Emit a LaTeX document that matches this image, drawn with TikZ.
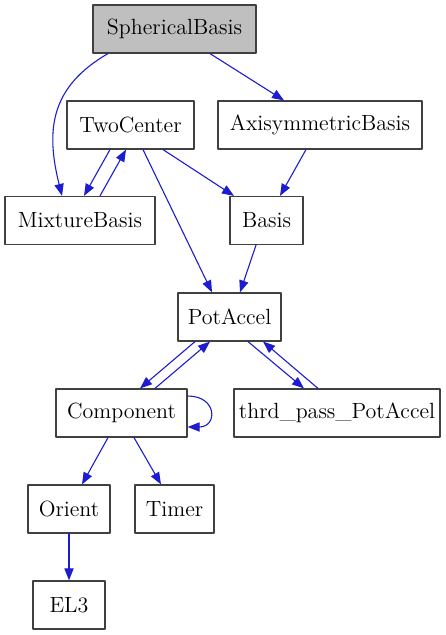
\documentclass[tikz,border=0pt]{standalone}
\usepackage{tikz}
\usetikzlibrary{arrows.meta}
\definecolor{edgeblue}{RGB}{28,28,208}

\begin{document}
\begin{tikzpicture}[
    x=0.5pt, y=-0.5pt,
    >={Triangle[length=6pt,width=4.6pt]},
    line cap=round,
    line join=round,
    font=\fontsize{11}{13}\selectfont,
    cls/.style={draw=black!75, line width=0.6pt, minimum height=24pt, inner sep=0pt, fill=white},
    edge/.style={->, draw=edgeblue, line width=0.55pt}
]

% -----------------------
% Frame
% -----------------------
\useasboundingbox (0,0) rectangle (445,635);

% -----------------------
% Classes
% -----------------------
\node[cls, fill=black!25, minimum width=81.5pt] (sph) at (174.5,29)  {SphericalBasis};
\node[cls, minimum width=63.5pt]  (two) at (130.5,125)  {TwoCenter};
\node[cls, minimum width=102pt]   (axi) at (320,125)    {AxisymmetricBasis};
\node[cls, minimum width=75pt]    (mix) at (80,220.5)   {MixtureBasis};
\node[cls, minimum width=36.5pt]  (bas) at (266.5,220.5) {Basis};
\node[cls, minimum width=51.5pt]  (pot) at (229.5,317)  {PotAccel};
\node[cls, minimum width=65.5pt]  (com) at (121.5,413)  {Component};
\node[cls, minimum width=103pt]   (thr) at (337,413)    {thrd\_pass\_PotAccel};
\node[cls, minimum width=41pt]    (ori) at (69,509)     {Orient};
\node[cls, minimum width=39.5pt]  (tim) at (174.5,509)  {Timer};
\node[cls, minimum width=36pt]    (el3) at (69,605)     {EL3};

% -----------------------
% Top level
% -----------------------
\draw[edge] ([xshift=-33.25pt]sph.south) to[out=210,in=104,looseness=1.15] ([xshift=-9pt]mix.north);
\draw[edge] ([xshift=17.75pt]sph.south) -- ([xshift=-18pt]axi.north);

% -----------------------
% TwoCenter / MixtureBasis
% -----------------------
\draw[edge] ([xshift=-10.25pt]two.south) -- ([xshift=2pt]mix.north);
\draw[edge] ([xshift=10pt]mix.north) -- ([xshift=-2.25pt]two.south);
\draw[edge] ([xshift=16.25pt]two.south) -- ([xshift=-16.25pt]bas.north);
\draw[edge] ([xshift=6.25pt]two.south) -- ([xshift=-8.75pt]pot.north);
\draw[edge] ([xshift=-7pt]axi.south) -- ([xshift=6.75pt]bas.north);
\draw[edge] ([xshift=-5.25pt]bas.south) -- ([xshift=5.25pt]pot.north);

% -----------------------
% PotAccel pairs
% -----------------------
\draw[edge] ([xshift=-17.25pt]pot.south) -- ([xshift=9.25pt]com.north);
\draw[edge] ([xshift=16.75pt]com.north) -- ([xshift=-9.75pt]pot.south);
\draw[edge] ([xshift=9.25pt]pot.south) -- ([xshift=-16.5pt]thr.north);
\draw[edge] ([xshift=-9.5pt]thr.north) -- ([xshift=16.75pt]pot.south);

% self loop
\draw[edge] ([yshift=8.5pt]com.east) .. controls +(15pt,0) and +(15pt,0) .. ([yshift=-7pt]com.east);

% -----------------------
% Bottom
% -----------------------
\draw[edge] ([xshift=-6.75pt]com.south) -- ([xshift=6.5pt]ori.north);
\draw[edge] ([xshift=6.25pt]com.south) -- ([xshift=-6.75pt]tim.north);
\draw[edge] (ori) -- (el3);

\end{tikzpicture}
\end{document}
